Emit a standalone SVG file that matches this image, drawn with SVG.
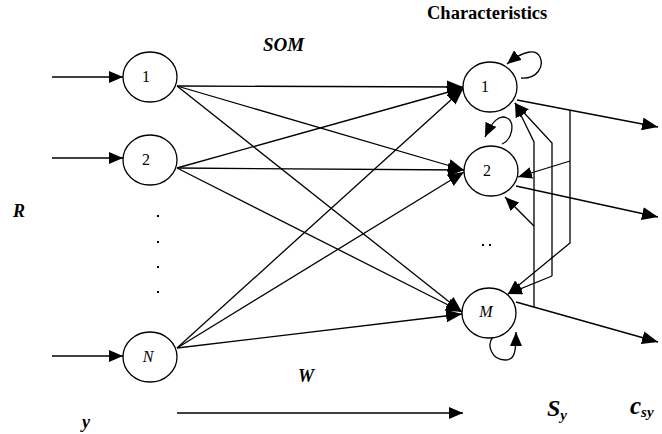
<svg xmlns="http://www.w3.org/2000/svg" width="662" height="434" viewBox="0 0 662 434">
<style>
.n{fill:#fff;stroke:#000;stroke-width:1.3}
.l{font-family:"Liberation Serif","Times New Roman",serif;font-size:16px;fill:#000}
.i{font-style:italic}
.b{font-family:"Liberation Serif","Times New Roman",serif;font-weight:bold;fill:#000}
.bi{font-family:"Liberation Serif","Times New Roman",serif;font-weight:bold;font-style:italic;fill:#000}
.c path,.c line,.c polyline{fill:none;stroke:#000;stroke-width:1.3}
.a{marker-end:url(#ah)}
.s{marker-end:url(#as)}
</style>
<defs>
<marker id="ah" markerWidth="17" markerHeight="13" refX="16" refY="6.5" orient="auto" markerUnits="userSpaceOnUse"><path d="M0,0 L16,6.5 L0,13 z" fill="#000"/></marker>
<marker id="as" markerWidth="15" markerHeight="12" refX="14" refY="6" orient="auto" markerUnits="userSpaceOnUse"><path d="M0,0 L14,6 L0,12 z" fill="#000"/></marker>
</defs>
<rect width="662" height="434" fill="#fff"/>
<g id="connectors" class="c">
<line x1="52" y1="77" x2="123" y2="77" class="s"/>
<line x1="52" y1="158" x2="123" y2="158" class="s"/>
<line x1="52" y1="356" x2="123" y2="356" class="s"/>
<line x1="177" y1="86" x2="463" y2="87" class="a"/>
<line x1="177" y1="86" x2="464" y2="170" class="a"/>
<line x1="177" y1="86" x2="462" y2="312" class="a"/>
<line x1="177" y1="168" x2="463" y2="88" class="a"/>
<line x1="177" y1="168" x2="464" y2="170" class="a"/>
<line x1="177" y1="168" x2="462" y2="312" class="a"/>
<line x1="177" y1="348" x2="463" y2="89" class="a"/>
<line x1="177" y1="348" x2="464" y2="172" class="a"/>
<line x1="177" y1="348" x2="462" y2="314" class="a"/>
<line x1="517" y1="100" x2="658" y2="127" class="a"/>
<line x1="516" y1="186" x2="658" y2="217" class="a"/>
<line x1="516" y1="302" x2="658" y2="342" class="a"/>
<polyline points="570,110 570,243 508,294" class="s"/>
<line x1="570" y1="161" x2="518" y2="177" class="s"/>
<polyline points="552,276 552,143 515,103" class="s"/>
<line x1="552" y1="276" x2="508" y2="294" class="s"/>
<polyline points="534,307 534,142 515,103" class="s"/>
<line x1="534" y1="226" x2="505" y2="197" class="s"/>
<path d="M521,78 C538,79 544,66 540,57 C536,49 524,50 507,64" class="s"/>
<path d="M502,144 C513,139 515,122 507,118 C499,114 492,122 485,137" class="s"/>
<path d="M493,337 C486,345 492,360 505,360 C515,360 516,352 516,332" class="s"/>
<line x1="177" y1="413" x2="463" y2="413" class="s"/>
</g>
<g id="in1"><ellipse class="n" cx="150" cy="77" rx="27" ry="25"/><text class="l" x="146" y="82" text-anchor="middle">1</text></g>
<g id="in2"><ellipse class="n" cx="150" cy="160" rx="27" ry="25"/><text class="l" x="146" y="165" text-anchor="middle">2</text></g>
<g id="inN"><ellipse class="n" cx="150" cy="357" rx="27" ry="25"/><text class="l i" x="148" y="362" text-anchor="middle">N</text></g>
<g id="out1"><ellipse class="n" cx="490" cy="87" rx="27" ry="25"/><text class="l" x="485" y="92" text-anchor="middle">1</text></g>
<g id="out2"><ellipse class="n" cx="491" cy="171" rx="27" ry="25"/><text class="l" x="487" y="176" text-anchor="middle">2</text></g>
<g id="outM"><ellipse class="n" cx="489" cy="313" rx="27" ry="25"/><text class="l i" x="486" y="317" text-anchor="middle">M</text></g>
<g id="dots" fill="#000">
<rect x="157" y="215" width="2" height="2"/>
<rect x="157" y="241" width="2" height="2"/>
<rect x="157" y="266" width="2" height="2"/>
<rect x="157" y="291" width="2" height="2"/>
<rect x="482" y="244" width="2" height="2"/>
<rect x="489" y="244" width="2" height="2"/>
</g>
<g id="labels">
<text class="b" x="427" y="19" font-size="18.5">Characteristics</text>
<text class="bi" x="263" y="51" font-size="19">SOM</text>
<text class="bi" x="13" y="217" font-size="18">R</text>
<text class="bi" x="298" y="382" font-size="18">W</text>
<text class="bi" x="82" y="428" font-size="18">y</text>
<text class="bi" x="547" y="416" font-size="24">S<tspan font-size="15" dy="4">y</tspan></text>
<text class="bi" x="630" y="414" font-size="25">c<tspan font-size="15" dy="3">sy</tspan></text>
</g>
</svg>
